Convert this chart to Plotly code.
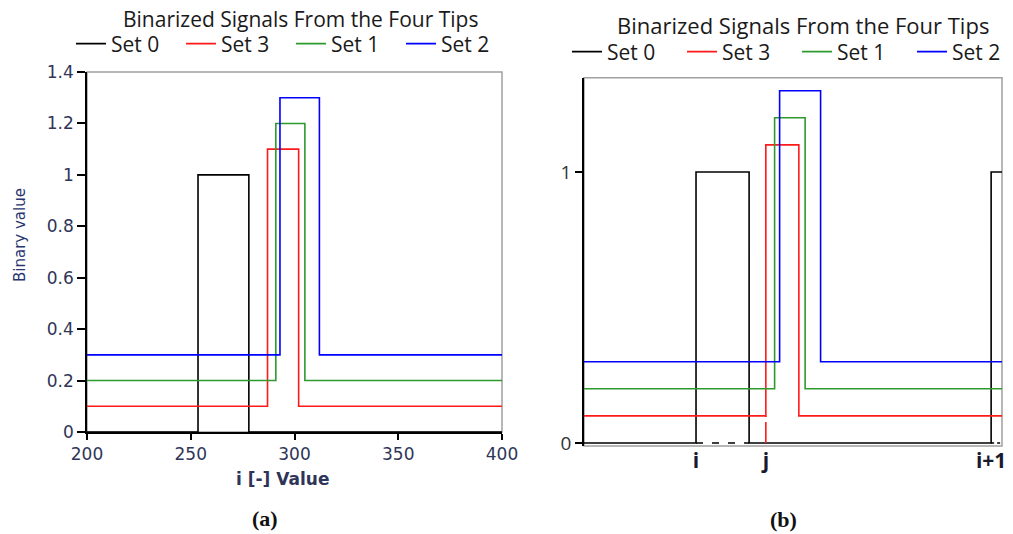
import plotly.graph_objects as go

# ---------------- data ----------------
series_names = ["Set 0", "Set 3", "Set 1", "Set 2"]
series_colors = ["#000000", "#ff1a1a", "#2e9a2e", "#0000ff"]

# panel (a): i [-] value axis 200..400
a_x_range = [200, 400]
a_base = [0.0, 0.1, 0.2, 0.3]
a_peak = [1.0, 1.1, 1.2, 1.3]
a_rise = [253.5, 287, 291, 293]
a_fall = [278, 302, 305, 312]
a_xticks = [200, 250, 300, 350, 400]
a_yticks = [0, 0.2, 0.4, 0.6, 0.8, 1.0, 1.2, 1.4]
a_ytick_text = ["0", "0.2", "0.4", "0.6", "0.8", "1", "1.2", "1.4"]

# panel (b): schematic, arbitrary position units 0..100
b_x_range = [0, 100]
b_base = [0.0, 0.1, 0.2, 0.3]
b_peak = [1.0, 1.1, 1.2, 1.3]
b_rise = [26.8, 43.5, 45.6, 46.8]
b_fall = [39.5, 51.4, 52.9, 56.6]
b_next_rise_set0 = 97.4
b_xtick_text = ["i", "j", "i+1"]
b_yticks = [0, 1]

title_text = "Binarized Signals From the Four Tips"

# ---------------- figure ----------------
# the page body has an 8px margin, so the figure is drawn 8px in from the window edge
OFF = 8
W, H = 1013 - OFF, 534 - OFF
fig = go.Figure()

def px_x(p):
    return (p - OFF) / W

def px_y(p):
    return 1 - (p - OFF) / H

for k, name in enumerate(series_names):
    xs = [a_x_range[0], a_rise[k], a_fall[k], a_x_range[1]]
    ys = [a_base[k], a_peak[k], a_base[k], a_base[k]]
    fig.add_trace(go.Scatter(x=xs, y=ys, mode="lines", name=name,
                             line=dict(color=series_colors[k], width=1.6, shape="hv"),
                             xaxis="x", yaxis="y", legend="legend"))

for k, name in enumerate(series_names):
    if k == 0:
        xs = [b_x_range[0], b_rise[k], b_fall[k], b_next_rise_set0, b_x_range[1]]
        ys = [b_base[k], b_peak[k], b_base[k], b_peak[k], b_peak[k]]
    else:
        xs = [b_x_range[0], b_rise[k], b_fall[k], b_x_range[1]]
        ys = [b_base[k], b_peak[k], b_base[k], b_base[k]]
    fig.add_trace(go.Scatter(x=xs, y=ys, mode="lines", name=name,
                             line=dict(color=series_colors[k], width=1.6, shape="hv"),
                             xaxis="x2", yaxis="y2", legend="legend2"))

# dashed guides in (b)
fig.add_trace(go.Scatter(x=[b_rise[0], b_fall[0]], y=[0, 0], mode="lines",
                         line=dict(color="#000000", width=1.6, dash="7px,9px"),
                         showlegend=False, xaxis="x2", yaxis="y2"))
fig.add_trace(go.Scatter(x=[b_next_rise_set0, b_x_range[1]], y=[0, 0], mode="lines",
                         line=dict(color="#000000", width=1.6, dash="3px,3px"),
                         showlegend=False, xaxis="x2", yaxis="y2"))
fig.add_trace(go.Scatter(x=[b_rise[1], b_rise[1]], y=[0, b_base[1]], mode="lines",
                         line=dict(color=series_colors[1], width=1.6, dash="21px,5px"),
                         showlegend=False, xaxis="x2", yaxis="y2"))

tick_col = "#2e3558"
b_unit = 271.0          # px per unit in panel (b)
b_ylow = -3.0 / b_unit  # small pad so the y=0 signal line is not clipped

fig.update_layout(
    width=W, height=H,
    margin=dict(l=0, r=0, t=0, b=0, autoexpand=False),
    paper_bgcolor="white", plot_bgcolor="white",
    xaxis=dict(domain=[px_x(87), px_x(502)], range=a_x_range, tickvals=a_xticks,
               showline=True, linecolor="black", linewidth=1.5, ticks="outside",
               ticklen=6, tickcolor="black", tickwidth=1.5, showgrid=False, zeroline=False,
               tickfont=dict(family="DejaVu Sans", size=17, color=tick_col)),
    yaxis=dict(domain=[px_y(432), px_y(72)], range=[0, 1.4], tickvals=a_yticks,
               ticktext=a_ytick_text,
               showline=True, linecolor="black", linewidth=1.5, ticks="outside",
               ticklen=8, tickcolor="black", tickwidth=1.5, showgrid=False, zeroline=False,
               tickfont=dict(family="DejaVu Sans", size=17, color=tick_col)),
    xaxis2=dict(domain=[px_x(584), px_x(1002)], range=b_x_range, anchor="y2",
                tickvals=[b_rise[0], b_rise[1], b_next_rise_set0], ticktext=b_xtick_text,
                showline=False, ticks="", showgrid=False, zeroline=False,
                ticklabeloverflow="allow",
                tickfont=dict(family="Open Sans", size=21, color="#1a1a2e", weight="bold")),
    yaxis2=dict(domain=[px_y(443 + 3), px_y(77.7)], range=[b_ylow, 1.348], anchor="x2",
                tickvals=b_yticks, showline=True, linecolor="black", linewidth=1.5,
                ticks="outside", ticklen=7, tickcolor="black", tickwidth=1.5,
                showgrid=False, zeroline=False,
                tickfont=dict(family="Open Sans", size=19, color="#333333")),
    legend=dict(orientation="h", xref="container", yref="container",
                x=px_x(71), y=px_y(44), xanchor="left", yanchor="middle",
                font=dict(family="Open Sans", size=21, color="#1a1a1a"),
                entrywidth=65, bgcolor="rgba(0,0,0,0)", traceorder="normal"),
    legend2=dict(orientation="h", xref="container", yref="container",
                 x=px_x(567), y=px_y(52), xanchor="left", yanchor="middle",
                 font=dict(family="Open Sans", size=21, color="#1a1a1a"),
                 entrywidth=70, bgcolor="rgba(0,0,0,0)", traceorder="normal"),
    showlegend=True,
)

# gray frames (top/right borders)
for xr, yr in (("x domain", "y domain"), ("x2 domain", "y2 domain")):
    fig.add_shape(type="rect", xref=xr, yref=yr, x0=0, x1=1, y0=0, y1=1,
                  line=dict(color="#a0a0a0", width=1.5), layer="below")

# titles, axis titles, captions
def note(text, x, y, size, family, color, angle=0, weight="normal"):
    fig.add_annotation(text=text, xref="paper", yref="paper", x=px_x(x), y=px_y(y),
                       xanchor="center", yanchor="middle", textangle=angle,
                       showarrow=False, borderpad=0,
                       font=dict(family=family, size=size, color=color, weight=weight))

note(title_text, 300, 19, 21, "Open Sans", "#1a1a1a")
note(title_text, 803, 25, 22, "Open Sans", "#1a1a1a")
note("Binary value", 20, 235, 15, "DejaVu Sans", "#27346e", angle=-90)
note("i [-] Value", 282, 479, 17, "DejaVu Sans", tick_col, weight="bold")
note("(a)", 265, 518, 22, "Liberation Serif", "#111111", weight="bold")
note("(b)", 783, 519, 22, "Liberation Serif", "#111111", weight="bold")

fig.write_html("out.html")
